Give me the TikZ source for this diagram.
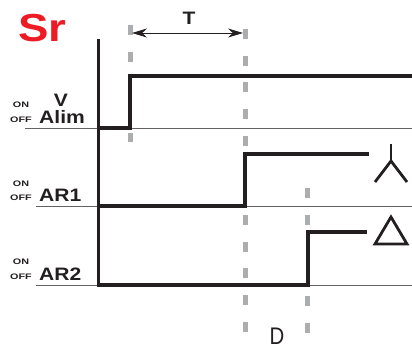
\documentclass[tikz,border=0pt]{standalone}
\usepackage{fontspec}
\setmainfont{Liberation Sans}
\newfontfamily\sigfont[FakeStretch=1.17]{Liberation Sans}
\newfontfamily\tinyfont[FakeStretch=1.35]{Liberation Sans}
\newfontfamily\narrowfont[FakeStretch=.85]{Liberation Sans}
\usetikzlibrary{arrows.meta}
\definecolor{inkblack}{HTML}{231F20}
\definecolor{srred}{HTML}{ED1C24}
\definecolor{dashgray}{HTML}{ABADB0}
\tikzset{
  trace/.style={draw=inkblack, line width=4.4pt, line join=miter},
  baseline/.style={draw=inkblack!70, line width=1pt},
  timemark/.style={draw=dashgray, line width=5pt, dash pattern=on 10pt off 16.7pt},
  contact/.style={draw=inkblack, line width=2.8pt},
  sigbiglabel/.style={anchor=base west, inner sep=0pt, text=inkblack, font=\fontsize{18}{18}\sigfont\bfseries},
  sigsmalllabel/.style={anchor=base, inner sep=0pt, text=inkblack, font=\fontsize{8}{8}\tinyfont\bfseries},
}
\begin{document}
\begin{tikzpicture}[x=1pt, y=-1pt]
\useasboundingbox (0,0) rectangle (412,349);
% thin base lines
\draw[baseline] (25,128) -- (412,128);
\draw[baseline] (36,206) -- (412,206);
\draw[baseline] (36,285) -- (412,285);
% time marks
\draw[timemark] (130,25) -- (130,63);
\draw[timemark] (130,133) -- (130,142);
\draw[timemark] (245,29) -- (245,146);
\draw[timemark] (245,215) -- (245,333);
\draw[timemark] (307,188) -- (307,226);
\draw[timemark] (307,296) -- (307,333);
% axis and signals
\draw[draw=inkblack, line width=3pt] (98,39) -- (98,287);
\draw[trace] (98,128) -- (130,128) -- (130,76) -- (412,76);
\draw[trace] (98,206) -- (245,206) -- (245,154) -- (369,154);
\draw[trace] (98,285) -- (308,285) -- (308,232) -- (367,232);
% delay T
\coordinate (tstart) at (132,33);
\coordinate (tend) at (243,33);
\draw[draw=inkblack, line width=0.8pt, {Stealth[length=15pt,width=9pt]}-{Stealth[length=15pt,width=9pt]}] (tstart) -- (tend);
\node[anchor=base, inner sep=0pt, text=inkblack, font=\fontsize{18}{18}\sigfont\bfseries] (tlabel) at (189,24) {T};
\node[anchor=base, inner sep=0pt, text=inkblack, font=\fontsize{24}{24}\narrowfont] (dlabel) at (277,344.5) {D};
% title and labels
\node[anchor=base west, inner sep=0pt, text=srred, font=\fontsize{39}{39}\sigfont\bfseries] (title) at (18,41) {Sr};
\node[sigbiglabel, anchor=base] (vlabel) at (61,106) {V};
\node[sigbiglabel] (alimlabel) at (39,123) {Alim};
\node[sigbiglabel] (aronelabel) at (39,201) {AR1};
\node[sigbiglabel] (artwolabel) at (39,280) {AR2};
\node[sigsmalllabel] (onv) at (21,107) {ON};
\node[sigsmalllabel] (offv) at (21,122) {OFF};
\node[sigsmalllabel] (onone) at (21,186) {ON};
\node[sigsmalllabel] (offone) at (21,200) {OFF};
\node[sigsmalllabel] (ontwo) at (21,264) {ON};
\node[sigsmalllabel] (offtwo) at (21,279) {OFF};
% star and delta symbols
\draw[contact] (391,144) -- (391,161);
\draw[contact] (375,182) -- (391,161) -- (407,182);
\draw[contact, line join=miter] (391,217) -- (407,244) -- (375,244) -- cycle;
\end{tikzpicture}
\end{document}
